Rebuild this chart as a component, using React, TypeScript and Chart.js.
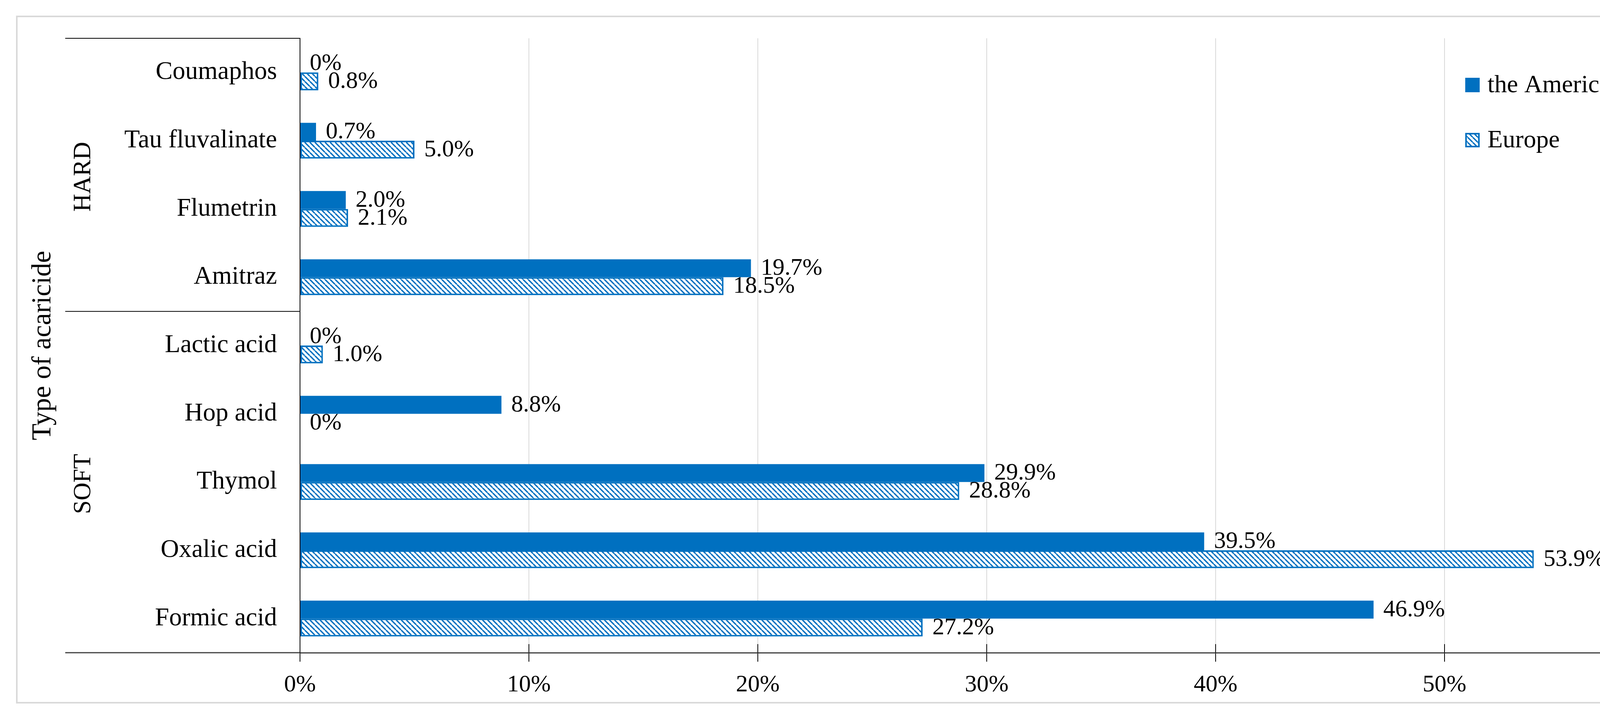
import React, { useEffect, useRef } from 'react';
import { Chart, registerables } from 'chart.js';

Chart.register(...registerables);

// ---- data ----
const categories = [
  'Coumaphos',
  'Tau fluvalinate',
  'Flumetrin',
  'Amitraz',
  'Lactic acid',
  'Hop acid',
  'Thymol',
  'Oxalic acid',
  'Formic acid',
];
const americas = [0, 0.7, 2.0, 19.7, 0, 8.8, 29.9, 39.5, 46.9];
const europe = [0.8, 5.0, 2.1, 18.5, 1.0, 0, 28.8, 53.9, 27.2];
const seriesNames = ['the Americas', 'Europe'];
const groupLabels = ['HARD', 'SOFT'];
const groupStarts = [0, 4];
const groupEnds = [3, 8];
const axisTitle = 'Type of acaricide';
const xMin = 0;
const xMax = 60;
const xStep = 10;

// ---- style ----
const W = 4401;
const H = 1855;
const BLUE = '#0070C0';
const FONT = '"Liberation Serif", "Times New Roman", serif';

function makeHatch(): CanvasPattern | string {
  const s = 13;
  const c = document.createElement('canvas');
  c.width = s;
  c.height = s;
  const g = c.getContext('2d');
  if (!g) return BLUE;
  g.fillStyle = '#ffffff';
  g.fillRect(0, 0, s, s);
  g.strokeStyle = BLUE;
  g.lineWidth = 3.5;
  for (const o of [-s, 0, s]) {
    g.beginPath();
    g.moveTo(o, 0);
    g.lineTo(o + s, s);
    g.stroke();
  }
  return g.createPattern(c, 'repeat') || BLUE;
}

const fmt = (v: number) => (v === 0 ? '0%' : v.toFixed(1) + '%');

export default function App() {
  const ref = useRef<HTMLCanvasElement | null>(null);

  useEffect(() => {
    if (!ref.current) return;
    const hatch = makeHatch();

    const framePlugin = {
      id: 'frame',
      beforeDraw(chart: any) {
        const ctx = chart.ctx;
        ctx.save();
        ctx.strokeStyle = '#d9d9d9';
        ctx.lineWidth = 4;
        ctx.strokeRect(43, 42, 4317, 1756);
        ctx.restore();
      },
      afterDraw(chart: any) {
        const { ctx, chartArea } = chart;
        const x = chart.scales.x;
        const y = chart.scales.y;
        const left = 167;
        ctx.save();
        // top frame line
        ctx.strokeStyle = '#000';
        ctx.lineWidth = 2;
        ctx.beginPath();
        ctx.moveTo(left, chartArea.top);
        ctx.lineTo(chartArea.left, chartArea.top);
        ctx.stroke();
        // group separators
        for (let g = 0; g < groupStarts.length - 1; g++) {
          const yy = (y.getPixelForValue(groupEnds[g]) + y.getPixelForValue(groupStarts[g + 1])) / 2;
          ctx.beginPath();
          ctx.moveTo(left, yy);
          ctx.lineTo(chartArea.left, yy);
          ctx.stroke();
        }
        // x axis extension to the left
        ctx.strokeStyle = '#404040';
        ctx.lineWidth = 3;
        ctx.beginPath();
        ctx.moveTo(left, chartArea.bottom);
        ctx.lineTo(chartArea.left, chartArea.bottom);
        ctx.stroke();
        // tick marks crossing above the axis
        ctx.strokeStyle = '#000';
        ctx.lineWidth = 2;
        x.ticks.forEach((t: any) => {
          const px = x.getPixelForValue(t.value);
          ctx.beginPath();
          ctx.moveTo(px, chartArea.bottom - 22);
          ctx.lineTo(px, chartArea.bottom);
          ctx.stroke();
        });
        // group labels
        ctx.fillStyle = '#000';
        ctx.font = '63px ' + FONT;
        ctx.textAlign = 'center';
        ctx.textBaseline = 'middle';
        groupLabels.forEach((lab, g) => {
          const cy = (y.getPixelForValue(groupStarts[g]) + y.getPixelForValue(groupEnds[g])) / 2 + 5;
          ctx.save();
          ctx.translate(214, cy);
          ctx.rotate(-Math.PI / 2);
          ctx.fillText(lab, 0, 0);
          ctx.restore();
        });
        // legend
        ctx.textAlign = 'left';
        ctx.textBaseline = 'alphabetic';
        ctx.font = '64px ' + FONT;
        chart.data.datasets.forEach((ds: any, i: number) => {
          const lx = 3751;
          const ly = 199 + i * 141;
          const sz = 37;
          ctx.fillStyle = ds.backgroundColor;
          ctx.fillRect(lx, ly, sz, sz);
          if (ds.borderWidth) {
            ctx.strokeStyle = ds.borderColor;
            ctx.lineWidth = 4;
            ctx.strokeRect(lx + 2, ly + 2, sz - 4, sz - 4);
          }
          ctx.fillStyle = '#000';
          ctx.fillText(ds.label, lx + 57, ly + sz);
        });
        ctx.restore();
      },
      afterDatasetsDraw(chart: any) {
        const ctx = chart.ctx;
        ctx.save();
        ctx.fillStyle = '#000';
        ctx.font = '61px ' + FONT;
        ctx.textAlign = 'left';
        ctx.textBaseline = 'middle';
        chart.data.datasets.forEach((ds: any, i: number) => {
          const meta = chart.getDatasetMeta(i);
          meta.data.forEach((el: any, j: number) => {
            const v = ds.data[j] as number;
            ctx.fillText(fmt(v), el.x + 25, el.y + 1);
          });
        });
        ctx.restore();
      },
    };

    const chart = new Chart(ref.current, {
      type: 'bar',
      data: {
        labels: categories,
        datasets: [
          {
            label: seriesNames[0],
            data: americas,
            backgroundColor: BLUE,
            borderWidth: 0,
            barPercentage: 1,
            categoryPercentage: 0.525,
          },
          {
            label: seriesNames[1],
            data: europe,
            backgroundColor: hatch as any,
            borderColor: BLUE,
            borderWidth: 4,
            borderSkipped: false,
            barPercentage: 1,
            categoryPercentage: 0.525,
          },
        ],
      },
      options: {
        indexAxis: 'y',
        responsive: false,
        maintainAspectRatio: false,
        animation: false,
        devicePixelRatio: 1,
        layout: { padding: { top: 57, right: W - 4284, left: 0, bottom: 0 } },
        plugins: {
          legend: { display: false },
          tooltip: { enabled: false },
        },
        scales: {
          x: {
            type: 'linear',
            min: xMin,
            max: xMax,
            ticks: {
              stepSize: xStep,
              callback: (v: any) => v + '%',
              color: '#000',
              font: { family: FONT, size: 61 },
              padding: 23,
            },
            grid: {
              color: '#d9d9d9',
              lineWidth: 2,
              tickColor: '#000',
              tickLength: 23,
              tickWidth: 2,
            },
            border: { display: true, color: '#404040', width: 3 },
            afterFit: (s: any) => {
              s.height = H - 1670;
            },
          },
          y: {
            type: 'category',
            ticks: {
              color: '#000',
              font: { family: FONT, size: 65 },
              padding: 59,
            },
            grid: { display: false, drawTicks: false },
            border: { display: true, color: '#000', width: 2 },
            title: {
              display: true,
              text: axisTitle,
              color: '#000',
              font: { family: FONT, size: 70 },
              padding: { top: 69, bottom: 0 },
            },
            afterFit: (s: any) => {
              s.width = 768;
            },
          },
        },
      },
      plugins: [framePlugin],
    } as any);

    return () => chart.destroy();
  }, []);

  return (
    <div style={{ position: 'absolute', left: 0, top: 0, width: W, height: H, background: '#fff' }}>
      <canvas ref={ref} width={W} height={H} style={{ display: 'block', width: W, height: H }} />
    </div>
  );
}
